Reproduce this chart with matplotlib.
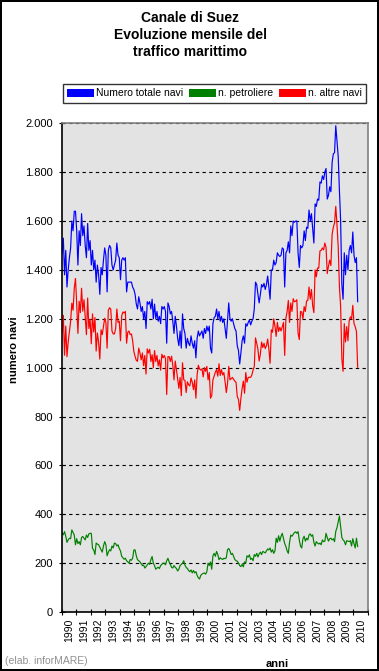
import numpy as np
import matplotlib
matplotlib.use("Agg")
import matplotlib.pyplot as plt
from matplotlib.patches import Patch
from matplotlib.ticker import FixedLocator, FuncFormatter

plt.rcParams['font.family'] = ['Liberation Sans', 'DejaVu Sans']

# dati mensili, gen 1990 - apr 2010
totale_navi = [
    1470, 1530, 1380, 1480, 1330, 1400, 1450, 1490, 1600, 1560, 1640, 1640,  # 1990
    1560, 1420, 1560, 1500, 1630, 1540, 1580, 1500, 1450, 1590, 1480, 1520,  # 1991
    1420, 1480, 1400, 1440, 1350, 1420, 1380, 1300, 1410, 1380, 1440, 1490,  # 1992
    1460, 1310, 1480, 1500, 1490, 1420, 1400, 1420, 1440, 1510, 1460, 1450,  # 1993
    1360, 1440, 1450, 1440, 1450, 1310, 1350, 1350, 1350, 1350, 1330, 1320,  # 1994
    1300, 1260, 1240, 1290, 1265, 1230, 1250, 1200, 1230, 1160, 1270, 1260,  # 1995
    1270, 1240, 1280, 1200, 1260, 1200, 1230, 1190, 1210, 1180, 1250, 1240,  # 1996
    1250, 1230, 1100, 1265, 1250, 1220, 1230, 1190, 1140, 1210, 1170, 1120,  # 1997
    1090, 1150, 1080, 1220, 1160, 1140, 1080, 1120, 1100, 1090, 1130, 1100,  # 1998
    1080, 1110, 1040, 1120, 1150, 1130, 1140, 1150, 1120, 1160, 1140, 1170,  # 1999
    1150, 1170, 1080, 1060, 1180, 1205, 1210, 1240, 1200, 1230, 1190, 1210,  # 2000
    1185, 1200, 1160, 1120, 1190, 1265, 1200, 1190, 1200, 1180, 1160, 1150,  # 2001
    1090, 1070, 1015, 1060, 1110, 1130, 1100, 1180, 1170, 1185, 1195, 1175,  # 2002
    1190, 1200, 1240, 1350, 1340, 1300, 1265, 1300, 1340, 1330, 1345, 1320,  # 2003
    1340, 1375, 1330, 1280, 1400, 1400, 1440, 1420, 1430, 1470, 1460, 1455,  # 2004
    1460, 1490, 1485, 1330, 1470, 1480, 1515, 1470, 1580, 1540, 1600, 1595,  # 2005
    1600, 1600, 1470, 1410, 1500, 1490, 1500, 1560, 1520, 1575, 1570, 1645,  # 2006
    1600, 1630, 1570, 1510, 1670, 1660, 1690, 1685, 1760, 1755, 1785, 1770,  # 2007
    1800, 1815, 1690, 1705, 1740, 1720, 1840, 1875, 1880, 1990, 1930, 1865,  # 2008
    1725, 1600, 1340, 1280, 1470, 1380, 1460, 1400, 1480, 1500, 1470, 1555,  # 2009
    1460, 1430, 1450, 1270,                                                  # 2010
]

petroliere = [
    322, 316, 329, 310, 285, 295, 302, 300, 336, 325, 315, 275,  # 1990
    300, 280, 288, 275, 305, 309, 302, 295, 315, 305, 320, 322,  # 1991
    322, 260, 254, 235, 282, 278, 275, 265, 255, 245, 270, 288,  # 1992
    275, 230, 245, 255, 250, 270, 262, 282, 280, 270, 275, 260,  # 1993
    250, 228, 222, 216, 220, 210, 205, 200, 215, 212, 220, 254,  # 1994
    254, 230, 214, 210, 205, 198, 190, 192, 180, 186, 193, 200,  # 1995
    195, 215, 227, 200, 190, 175, 180, 183, 178, 190, 195, 200,  # 1996
    200, 193, 210, 220, 205, 195, 183, 180, 190, 183, 178, 168,  # 1997
    175, 190, 195, 200, 210, 192, 182, 178, 170, 165, 172, 160,  # 1998
    170, 160, 165, 150, 140, 135, 150, 155, 158, 160, 155, 165,  # 1999
    200, 190, 205, 175, 230, 240, 228, 248, 235, 214, 222, 218,  # 2000
    215, 220, 218, 222, 255, 260, 250, 235, 240, 228, 215, 210,  # 2001
    208, 200, 190, 186, 195, 185, 205, 200, 230, 225, 234, 215,  # 2002
    220, 210, 235, 228, 240, 225, 238, 245, 235, 248, 245, 242,  # 2003
    250, 258, 254, 262, 245, 255, 240, 250, 302, 285, 312, 290,  # 2004
    310, 322, 300, 280, 268, 250, 240, 285, 315, 310, 318, 325,  # 2005
    328, 322, 329, 295, 270, 262, 300, 310, 290, 302, 295, 315,  # 2006
    320, 310, 316, 285, 270, 288, 282, 278, 282, 275, 295, 288,  # 2007
    290, 322, 305, 290, 300, 302, 295, 300, 288, 330, 345, 370,  # 2008
    393, 350, 305, 295, 290, 275, 292, 290, 288, 292, 270, 300,  # 2009
    280, 262, 302, 268,                                          # 2010
]

anni = list(range(1990, 2011))
etichette = ["Numero totale navi", "n. petroliere", "n. altre navi"]

totale = np.array(totale_navi)
tanker = np.array(petroliere)
altre = totale - tanker  # altre navi = totale - petroliere
mesi = np.arange(len(totale)) + 0.5

W, H = 379, 671
fig = plt.figure(figsize=(W / 100, H / 100), dpi=100)
fig.patch.set_facecolor('white')
fig.patch.set_edgecolor('black')
fig.patch.set_linewidth(1.5)

ax = fig.add_axes([61.5 / W, 1 - 612 / H, 306.5 / W, (612 - 123.3) / H])
ax.set_facecolor('#E3E3E3')

ax.plot(mesi, totale, color='#0000FF', lw=0.85)
ax.plot(mesi, tanker, color='#008000', lw=0.85)
ax.plot(mesi, altre, color='#FF0000', lw=0.85)

ax.set_xlim(0, 12 * len(anni))
ax.set_ylim(0, 2000)

ax.yaxis.set_major_locator(FixedLocator(range(0, 2001, 200)))
ax.yaxis.set_major_formatter(FuncFormatter(lambda v, p: f"{int(v):,}".replace(",", ".")))
ax.grid(axis='y', color='black', lw=0.8, linestyle=(0, (3, 3)))
ax.set_axisbelow(True)

ax.xaxis.set_major_locator(FixedLocator([12 * i for i in range(len(anni) + 1)]))
ax.xaxis.set_major_formatter(FuncFormatter(lambda v, p: ""))
ax.xaxis.set_minor_locator(FixedLocator([12 * i + 6.5 for i in range(len(anni))]))
ax.set_xticklabels([str(a) for a in anni], minor=True, rotation=90, fontsize=7.5)
ax.tick_params(axis='x', which='minor', length=0, pad=5)
ax.tick_params(axis='both', which='major', direction='inout', length=5, width=0.8, labelsize=8)

for s in ['left', 'bottom']:
    ax.spines[s].set_color('black')
    ax.spines[s].set_linewidth(1.2)
for s in ['top', 'right']:
    ax.spines[s].set_color('#808080')
    ax.spines[s].set_linewidth(1.2)

fig.text(14 / W, 1 - 350 / H, 'numero navi', rotation=90, ha='center', va='center',
         fontsize=8, fontweight='bold')
fig.text(277 / W, 1 - 664 / H, 'anni', ha='center', va='center', fontsize=8, fontweight='bold')
fig.text(5 / W, 1 - 661 / H, '(elab. inforMARE)', ha='left', va='center', fontsize=7.5, color='#909090')

fig.text(190 / W, 1 - 18 / H, 'Canale di Suez', ha='center', va='center', fontsize=10, fontweight='bold')
fig.text(190 / W, 1 - 35 / H, 'Evoluzione mensile del', ha='center', va='center', fontsize=10, fontweight='bold')
fig.text(190 / W, 1 - 52 / H, 'traffico marittimo', ha='center', va='center', fontsize=10, fontweight='bold')

handles = [Patch(facecolor=c, edgecolor='none') for c in ['#0000FF', '#008000', '#FF0000']]
leg = fig.legend(handles, etichette, loc='center',
                 bbox_to_anchor=(214.5 / W, 1 - 93.5 / H),
                 ncol=3, fontsize=7.5, frameon=True, fancybox=False, edgecolor='black',
                 handlelength=2.6, handleheight=0.85, handletextpad=0.25,
                 borderaxespad=0, borderpad=0.4, columnspacing=0.5)
leg.get_frame().set_linewidth(1.0)

fig.savefig('out.png', dpi=100)
